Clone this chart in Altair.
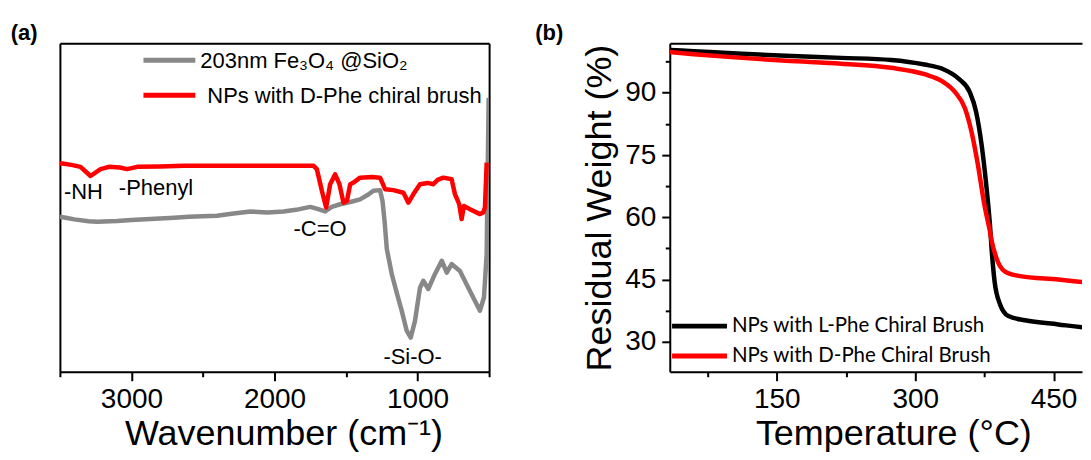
import altair as alt
import pandas as pd

# ---------------- data: panel (a) FTIR ----------------
series_a = ["203nm Fe₃O₄ @SiO₂", "NPs with D-Phe chiral brush"]
colors_a = ["#888888", "#ff0000"]

wn_gray = [3500, 3450, 3400, 3300, 3239, 3100, 3000, 2867, 2700, 2600, 2402, 2300,
           2169, 2050, 1937, 1850, 1750, 1700, 1646, 1600, 1541, 1470, 1402, 1350,
           1309, 1262, 1245, 1230, 1215, 1180, 1146, 1111, 1076, 1048, 1018, 983,
           960, 925, 879, 831, 796, 762, 704, 634, 564, 536, 517, 508, 503]
t_gray = [47.2, 46.8, 46.4, 45.8, 45.7, 45.9, 46.2, 46.5, 46.9, 47.2, 47.5, 48.1,
          48.8, 48.5, 48.8, 49.3, 50.2, 49.6, 48.8, 50.2, 51.0, 51.7, 52.5, 53.8,
          55.1, 55.3, 52.0, 45.5, 37.4, 29.7, 24.1, 18.6, 12.5, 10.4, 15.5, 25.6,
          27.7, 25.2, 29.7, 33.8, 30.2, 32.8, 30.7, 24.6, 18.6, 22.6, 35.8, 67.2, 83.4]

wn_red = [3500, 3483, 3420, 3356, 3286, 3216, 3158, 3080, 3030, 2960, 2800, 2635,
          2400, 2169, 1900, 1727, 1704, 1669, 1639, 1611, 1576, 1546, 1518, 1494,
          1471, 1448, 1402, 1320, 1262, 1227, 1169, 1099, 1064, 1029, 983, 930,
          890, 860, 820, 762, 739, 723, 709, 692, 676, 634, 564, 541, 529, 517]
t_red = [63.4, 63.4, 63.0, 62.4, 59.6, 61.7, 62.4, 62.2, 61.7, 62.4, 62.5, 62.7,
         62.7, 62.7, 62.7, 62.7, 61.7, 55.1, 50.0, 57.1, 60.1, 57.1, 51.5, 52.0,
         57.1, 57.6, 59.1, 59.3, 59.1, 55.6, 55.3, 54.5, 51.5, 54.1, 57.1, 57.5,
         57.1, 58.4, 59.1, 58.6, 54.1, 52.5, 51.0, 46.5, 50.5, 49.5, 48.0, 48.5, 50.0, 63.7]

annot_text = ["-NH", "-Phenyl", "-C=O", "-Si-O-"]
annot_wn = [3472, 3088, 1867, 1239]
annot_val = [52.5, 53.7, 41.4, 2.4]

# ---------------- data: panel (b) TGA ----------------
series_b = ["NPs with L-Phe Chiral Brush", "NPs with D-Phe Chiral Brush"]
colors_b = ["#000000", "#ff0000"]

temp_L = [34, 60, 112, 160, 220, 274, 310, 329, 347, 359, 366, 372, 377, 381, 383,
          386, 392, 401, 419, 455, 491, 520]
w_L = [100.3, 100.0, 99.4, 98.9, 98.4, 97.9, 96.8, 95.8, 93.4, 90.2, 85.4, 77.4,
       67.8, 58.2, 51.8, 44.6, 39.0, 36.2, 35.2, 34.2, 33.3, 32.9]

temp_D = [34, 60, 112, 160, 220, 274, 311, 329, 343, 354, 361, 368, 375, 381, 383,
          388, 397, 412, 455, 491, 520]
w_D = [99.8, 99.3, 98.4, 97.7, 97.0, 96.0, 94.4, 92.8, 90.2, 86.2, 80.6, 72.6,
       63.0, 56.6, 54.2, 50.2, 47.0, 45.9, 45.0, 44.2, 43.6]

# ---------------- styling ----------------
FONT = "Liberation Sans"
LEG_FONT = "Lato"
W_A, W_B, H = 430, 413, 329

axis_style = dict(domainColor="black", domainWidth=2, tickColor="black", tickWidth=2,
                  labelFont=FONT, labelFontSize=28, labelColor="black",
                  titleFont=FONT, titleFontSize=36, titleFontWeight="normal",
                  titleColor="black", grid=False, labelOverlap=False, labelFlush=False)
frame_style = dict(labels=False, ticks=False, title=None, domainColor="black",
                   domainWidth=2, grid=False)

# ---------------- panel (a) ----------------
df_a = pd.concat([
    pd.DataFrame({"wn": wn_gray, "T": t_gray, "series": series_a[0]}),
    pd.DataFrame({"wn": wn_red, "T": t_red, "series": series_a[1]}),
])
df_ann = pd.DataFrame({"wn": annot_wn, "T": annot_val, "label": annot_text})

xs_a = alt.Scale(domain=[500, 3500], reverse=True, nice=False, zero=False)
ys_a = alt.Scale(domain=[0, 100], nice=False, zero=False)

lines_a = alt.Chart(df_a).mark_line(strokeWidth=4.5, strokeJoin="round", clip=True).encode(
    x=alt.X("wn:Q", scale=xs_a, title="Wavenumber (cm⁻¹)",
            axis=alt.Axis(values=[3500, 3000, 2500, 2000, 1500, 1000, 500], format="d",
                          labelExpr="datum.value % 1000 === 0 ? datum.label : ''",
                          tickSize={"condition": {"test": "datum.value % 1000 === 0", "value": 9}, "value": 5},
                          labelPadding=5, titlePadding=3, titleX=224, **axis_style)),
    y=alt.Y("T:Q", scale=ys_a, axis=alt.Axis(orient="left", **frame_style)),
    color=alt.Color("series:N", scale=alt.Scale(domain=series_a, range=colors_a), legend=None),
)
frame_a = alt.Chart(df_a).mark_point(opacity=0, clip=True).encode(
    x=alt.X("wn:Q", scale=xs_a, axis=alt.Axis(orient="top", **frame_style)),
    y=alt.Y("T:Q", scale=ys_a, axis=alt.Axis(orient="right", **frame_style)),
)
ann_a = alt.Chart(df_ann).mark_text(font=FONT, fontSize=22, align="left",
                                    baseline="alphabetic", color="black").encode(
    x=alt.X("wn:Q", scale=xs_a, axis=None),
    y=alt.Y("T:Q", scale=ys_a, axis=None),
    text="label:N",
)

leg_a = []
for i, (lab, col) in enumerate(zip(series_a, colors_a)):
    ypix = 17 + 35 * i
    d = pd.DataFrame({"s": [lab]})
    leg_a.append(alt.Chart(d).mark_rule(color=col, strokeWidth=5).encode(
        x=alt.value(83.7), x2=alt.value(135.7), y=alt.value(ypix)))
    leg_a.append(alt.Chart(d).mark_text(align="left", baseline="middle", font=FONT,
                                        fontSize=22, color="black").encode(
        x=alt.value(140.7 + 7 * i), y=alt.value(ypix + 0.5), text="s:N"))

lab_a = alt.Chart(pd.DataFrame({"s": ["(a)"]})).mark_text(
    align="left", baseline="middle", font=FONT, fontSize=22, fontWeight="bold", color="black"
).encode(x=alt.value(-49.3), y=alt.value(-10.8), text="s:N")

panel_a = alt.layer(lines_a, frame_a, ann_a, *leg_a, lab_a).resolve_axis(
    x="independent", y="independent").properties(width=W_A, height=H)

# ---------------- panel (b) ----------------
df_b = pd.concat([
    pd.DataFrame({"temp": temp_L, "w": w_L, "sample": series_b[0]}),
    pd.DataFrame({"temp": temp_D, "w": w_D, "sample": series_b[1]}),
])
xs_b = alt.Scale(domain=[34, 34 + W_B / 0.9244], nice=False, zero=False)
ys_b = alt.Scale(domain=[22.8, 101.9], nice=False, zero=False)

lines_b = alt.Chart(df_b).mark_line(strokeWidth=4.5, strokeJoin="round", clip=True,
                                    interpolate="monotone").encode(
    x=alt.X("temp:Q", scale=xs_b, title="Temperature (°C)",
            axis=alt.Axis(values=[75, 150, 225, 300, 375, 450],
                          labelExpr="datum.value % 150 === 0 ? datum.label : ''",
                          tickSize={"condition": {"test": "datum.value % 150 === 0", "value": 9}, "value": 5},
                          labelPadding=5, titlePadding=3, titleX=224, **axis_style)),
    y=alt.Y("w:Q", scale=ys_b, title="Residual Weight (%)",
            axis=alt.Axis(values=[30, 37.5, 45, 52.5, 60, 67.5, 75, 82.5, 90, 97.5],
                          labelExpr="datum.value % 15 === 0 ? datum.label : ''",
                          tickSize={"condition": {"test": "datum.value % 15 === 0", "value": 8}, "value": 4.5},
                          labelPadding=6, titlePadding=6, **axis_style)),
    color=alt.Color("sample:N", scale=alt.Scale(domain=series_b, range=colors_b), legend=None),
)
frame_b = alt.Chart(df_b).mark_point(opacity=0, clip=True).encode(
    x=alt.X("temp:Q", scale=xs_b, axis=alt.Axis(orient="top", **frame_style)),
    y=alt.Y("w:Q", scale=ys_b, axis=None),
)

leg_b = []
for i, (lab, col) in enumerate(zip(series_b, colors_b)):
    ypix = 283.3 + 30 * i
    d = pd.DataFrame({"s": [lab]})
    leg_b.append(alt.Chart(d).mark_rule(color=col, strokeWidth=5).encode(
        x=alt.value(2.3), x2=alt.value(57.3), y=alt.value(ypix)))
    leg_b.append(alt.Chart(d).mark_text(align="left", baseline="middle", font=LEG_FONT,
                                        fontSize=20.5, color="black").encode(
        x=alt.value(62.3), y=alt.value(ypix), text="s:N"))

lab_b = alt.Chart(pd.DataFrame({"s": ["(b)"]})).mark_text(
    align="left", baseline="middle", font=FONT, fontSize=22, fontWeight="bold", color="black"
).encode(x=alt.value(-134.7), y=alt.value(-10.8), text="s:N")

panel_b = alt.layer(lines_b, frame_b, *leg_b, lab_b).resolve_axis(
    x="independent", y="independent").properties(width=W_B, height=H)

chart = alt.hconcat(panel_a, panel_b, spacing=43).resolve_scale(
    color="independent", x="independent", y="independent"
).properties(
    padding={"left": 2, "top": 12, "right": 0, "bottom": 0}
).configure_view(stroke="transparent")

chart.save("out.html", embed_options={"renderer": "svg", "actions": False})
